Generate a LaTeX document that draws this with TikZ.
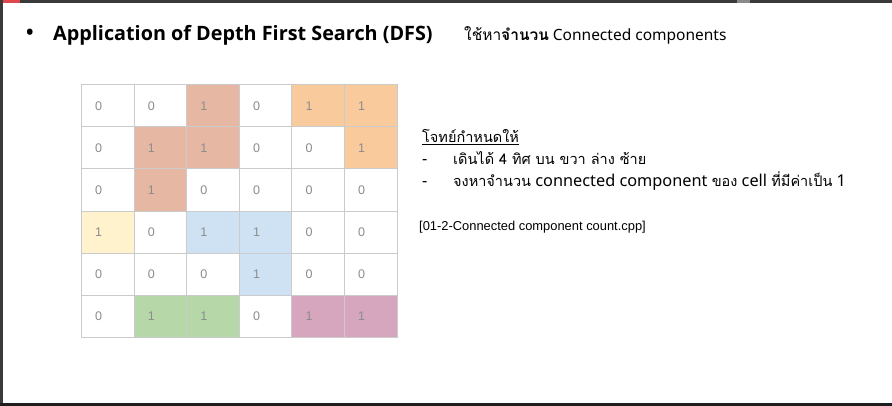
\documentclass[tikz,border=0pt]{standalone}
\usepackage{fontspec}
\setmainfont{Noto Sans}
\newfontfamily\titlefont{Open Sans}
\newfontfamily\thaifont[Script=Thai]{Loma}
\newfontfamily\arialfont{Liberation Sans}
\definecolor{barDark}{HTML}{3A3A3A}
\definecolor{barBottom}{HTML}{1E1E1E}
\definecolor{barRed}{HTML}{E0474C}
\definecolor{barGrey}{HTML}{8A8A8A}
\definecolor{gridLine}{HTML}{CBCBCB}
\definecolor{digit}{HTML}{8C8C8C}
\definecolor{cSalmon}{HTML}{E6B8A4}
\definecolor{cOrange}{HTML}{F9CB9C}
\definecolor{cYellow}{HTML}{FFF2CC}
\definecolor{cBlue}{HTML}{CFE2F3}
\definecolor{cGreen}{HTML}{B6D7A8}
\definecolor{cPink}{HTML}{D5A6BD}
\tikzset{
  cell/.style={draw=gridLine, line width=0.8pt, minimum width=52.6pt, minimum height=42.07pt, inner sep=0pt, anchor=north west},
  digitlabel/.style={anchor=west, inner sep=0pt, text=digit, font=\arialfont\fontsize{12.5}{14}\selectfont},
  thaitext/.style={anchor=base west, inner sep=0pt, font=\fontsize{16.3}{18}\selectfont},
}
\newcommand{\thx}[1]{{\thaifont\fontsize{14.5}{17}\selectfont #1}}
\begin{document}
\begin{tikzpicture}[x=1pt,y=-1pt]
\useasboundingbox (0,0) rectangle (892,406);
\fill[white] (0,0) rectangle (892,406);
% window frame
\fill[barDark] (0,0) rectangle (892,3.3);
\fill[barRed] (0,0) rectangle (20,3.3);
\fill[barGrey] (737,0) rectangle (750,3.3);
\fill[barDark] (0,0) rectangle (2.5,406);
\fill[barBottom] (0,402.8) rectangle (892,406);
% title
\node[anchor=center, inner sep=0pt, font=\titlefont\bfseries\fontsize{20}{22}\selectfont] (bullet) at (30,34) {•};
\node[anchor=base west, inner sep=0pt, font=\titlefont\bfseries\fontsize{19.8}{22}\selectfont] (title) at (53,41) {Application of Depth First Search (DFS)};
\node[anchor=base west, inner sep=0pt, font=\fontsize{15.5}{17}\selectfont] (subtitle) at (464,41) {{\thaifont ใช้หา\textbf{จำนวน}} Connected components};
% grid
\foreach \r/\rowvals/\rowcols in {
  0/{0,0,1,0,1,1}/{white,white,cSalmon,white,cOrange,cOrange},
  1/{0,1,1,0,0,1}/{white,cSalmon,cSalmon,white,white,cOrange},
  2/{0,1,0,0,0,0}/{white,cSalmon,white,white,white,white},
  3/{1,0,1,1,0,0}/{cYellow,white,cBlue,cBlue,white,white},
  4/{0,0,0,1,0,0}/{white,white,white,cBlue,white,white},
  5/{0,1,1,0,1,1}/{white,cGreen,cGreen,white,cPink,cPink}}{
  \foreach \v [count=\c from 0] in \rowvals {
    \foreach \col [count=\k from 0] in \rowcols {
      \ifnum\k=\c
        \node[cell, fill=\col] (c-\r-\c) at ({81+52.6*\c},{84.3+42.07*\r}) {};
        \node[digitlabel] (d-\r-\c) at ([xshift=14pt]c-\r-\c.west) {\v};
      \fi
    }
  }
}
% problem text
\node[thaitext] (head) at (422,143) {\thx{\underline{โจทย์กำหนดให้}}};
\node[thaitext] (dash1) at (422,165) {-};
\node[thaitext] (rule1) at (453,165) {\thx{เดินได้ 4 ทิศ บน ขวา ล่าง ซ้าย}};
\node[thaitext] (dash2) at (422,187) {-};
\node[thaitext] (rule2) at (453,187) {\thx{จงหาจำนวน} connected component \thx{ของ} cell \thx{ที่มีค่าเป็น} 1};
\node[anchor=base west, inner sep=0pt, font=\arialfont\fontsize{12.9}{15}\selectfont] (file) at (419,231) {[01-2-Connected component count.cpp]};
\end{tikzpicture}
\end{document}
